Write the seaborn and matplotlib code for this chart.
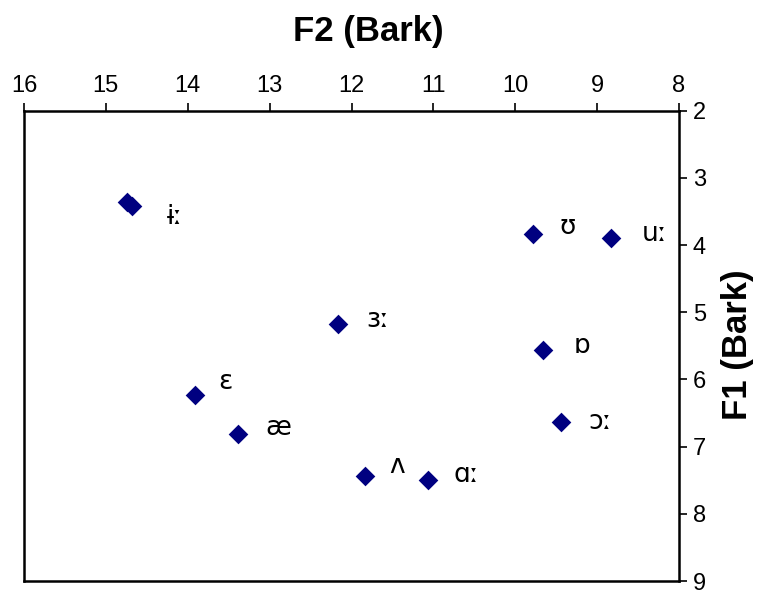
import matplotlib
matplotlib.use("Agg")
import matplotlib.pyplot as plt
import seaborn as sns
import pandas as pd

# data
vowels = ["ɨː", "ɨː", "ʊ", "uː", "ɜː", "ɒ", "ɛ", "æ", "ɔː", "ʌ", "ɑː"]
f2_bark = [14.74, 14.68, 9.78, 8.83, 12.17, 9.66, 13.91, 13.39, 9.44, 11.84, 11.07]
f1_bark = [3.36, 3.42, 3.83, 3.90, 5.18, 5.56, 6.23, 6.81, 6.63, 7.43, 7.49]
show_label = [False, True, True, True, True, True, True, True, True, True, True]
x_ticks = [16, 15, 14, 13, 12, 11, 10, 9, 8]
y_ticks = [2, 3, 4, 5, 6, 7, 8, 9]

# label offsets in points (style, not data)
label_offsets = [(0, 0), (31, -8), (25, 5), (31, 3), (29, 3), (28, 3), (22, 9), (29, 4), (28, 0), (23, 7), (28, 3)]

df = pd.DataFrame({"F2": f2_bark, "F1": f1_bark, "vowel": vowels})

sns.set_style("white")
plt.rcParams["font.family"] = ["Liberation Sans", "DejaVu Sans"]
plt.rcParams["text.color"] = "black"

fig = plt.figure(figsize=(7.59, 5.91), dpi=100)
ax = fig.add_axes([24 / 759, 1 - 581 / 591, (679 - 24) / 759, (581 - 110.7) / 591])

sns.scatterplot(data=df, x="F2", y="F1", marker="D", s=100, color="#000080",
                edgecolor="#000080", linewidth=0, ax=ax, legend=False, zorder=3)

for v, x, y, show, off in zip(vowels, f2_bark, f1_bark, show_label, label_offsets):
    if show:
        ax.annotate(v, (x, y), xytext=off, textcoords="offset points",
                    ha="center", va="center", fontsize=19,
                    family=["DejaVu Sans"], color="black")

ax.set_xlim(16, 8)
ax.set_ylim(9, 2)
ax.set_xticks(x_ticks)
ax.set_yticks(y_ticks)
ax.set_xticklabels([str(t) for t in x_ticks])
ax.set_yticklabels([str(t) for t in y_ticks])
ax.xaxis.tick_top()
ax.yaxis.tick_right()
ax.tick_params(axis="both", direction="out", length=6, width=1.2, labelsize=17,
               colors="black", labelcolor="black", pad=4)
ax.set_xlabel("")
ax.set_ylabel("")
for sp in ax.spines.values():
    sp.set_visible(True)
    sp.set_color("black")
    sp.set_linewidth(1.8)

fig.text(368 / 759, 1 - 31 / 591, "F2 (Bark)", ha="center", va="center",
         fontsize=25, fontweight="bold", color="black")
fig.text(737 / 759, 1 - 345 / 591, "F1 (Bark)", ha="center", va="center",
         fontsize=25, fontweight="bold", rotation=90, color="black")

fig.savefig("out.png", dpi=100)
